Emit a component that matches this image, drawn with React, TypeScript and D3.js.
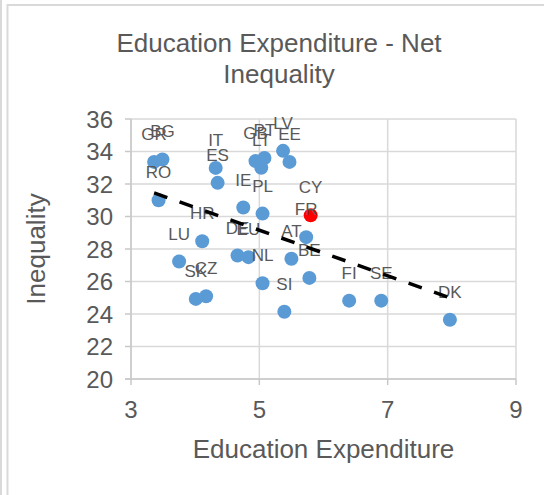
import React from "react";
import * as d3 from "d3";

const countries = ["GR","BG","RO","IT","ES","GB","PT","LT","LV","EE","IE","PL","CY","FR","AT","BE","HR","LU","DE","EU","NL","SI","SK","CZ","FI","SE","DK"];
const educationExpenditure = [3.36,3.49,3.43,4.32,4.35,4.94,5.08,5.03,5.37,5.47,4.75,5.05,5.80,5.73,5.50,5.78,4.11,3.75,4.66,4.83,5.05,5.39,4.01,4.17,6.40,6.90,7.97];
const netInequality = [33.36,33.51,31.0,32.99,32.07,33.41,33.6,33.0,34.04,33.36,30.55,30.18,30.07,28.73,27.4,26.22,28.48,27.23,27.6,27.5,25.89,24.14,24.93,25.09,24.82,24.82,23.65];
const highlighted = ["CY"];
const xTicks = [3, 5, 7, 9];
const yTicks = [20, 22, 24, 26, 28, 30, 32, 34, 36];

const W = 544, H = 495;
const FONT = "'Liberation Sans', Arial, sans-serif";
const TEXT = "#595959";
const GRID = "#d9d9d9";

export default function App() {
  const x = d3.scaleLinear().domain([3, 9]).range([131, 516]);
  const y = d3.scaleLinear().domain([20, 36]).range([379, 119]);

  const pts = countries.map((c, i) => ({ c, x: educationExpenditure[i], y: netInequality[i] }));
  const mx = d3.mean(pts, p => p.x)!;
  const my = d3.mean(pts, p => p.y)!;
  const sxy = d3.sum(pts, p => (p.x - mx) * (p.y - my));
  const sxx = d3.sum(pts, p => (p.x - mx) ** 2);
  const slope = sxy / sxx;
  const intercept = my - slope * mx;
  const [x0, x1] = d3.extent(educationExpenditure) as [number, number];
  const trend = d3.line<number>().x(v => x(v)).y(v => y(intercept + slope * v))([x0, x1])!;

  return (
    <svg width={W} height={H} style={{ position: "absolute", left: 0, top: 0, background: "#fff" }} fontFamily={FONT}>
      <rect width={W} height={H} fill="#fff" />
      {/* frame */}
      <line x1={1} x2={1} y1={0} y2={H} stroke={GRID} strokeWidth={2} />
      <line x1={7.5} x2={7.5} y1={4} y2={H} stroke={GRID} strokeWidth={2} />
      <line x1={7} x2={W} y1={5} y2={5} stroke={GRID} strokeWidth={2} />

      {/* title */}
      <text x={279} y={52} textAnchor="middle" fontSize={26} fill={TEXT}>Education Expenditure - Net</text>
      <text x={279} y={83} textAnchor="middle" fontSize={26} fill={TEXT}>Inequality</text>

      {/* gridlines */}
      {yTicks.map(t => (
        <line key={"gy" + t} x1={x(3)} x2={x(9)} y1={y(t)} y2={y(t)} stroke={GRID} strokeWidth={1.5} />
      ))}
      {xTicks.map(t => (
        <line key={"gx" + t} x1={x(t)} x2={x(t)} y1={y(36)} y2={y(20)} stroke={GRID} strokeWidth={1.5} />
      ))}
      {/* axes */}
      <line x1={x(3)} x2={x(3)} y1={y(36)} y2={y(20)} stroke="#c8c8c8" strokeWidth={1.5} />
      <line x1={x(3) - 6} x2={x(9)} y1={y(20)} y2={y(20)} stroke="#c8c8c8" strokeWidth={1.5} />
      {yTicks.map(t => (
        <line key={"ty" + t} x1={x(3) - 6} x2={x(3)} y1={y(t)} y2={y(t)} stroke="#c8c8c8" strokeWidth={1.5} />
      ))}
      {xTicks.map(t => (
        <line key={"tx" + t} x1={x(t)} x2={x(t)} y1={y(20)} y2={y(20) + 6} stroke="#c8c8c8" strokeWidth={1.5} />
      ))}
      {/* tick labels */}
      {yTicks.map(t => (
        <text key={"ly" + t} x={x(3) - 18} y={y(t) + 8.5} textAnchor="end" fontSize={24} fill={TEXT}>{t}</text>
      ))}
      {xTicks.map(t => (
        <text key={"lx" + t} x={x(t)} y={418} textAnchor="middle" fontSize={24} fill={TEXT}>{t}</text>
      ))}
      {/* axis titles */}
      <text x={(x(3) + x(9)) / 2} y={458} textAnchor="middle" fontSize={26} fill={TEXT}>Education Expenditure</text>
      <text transform={`translate(45,${(y(20) + y(36)) / 2}) rotate(-90)`} textAnchor="middle" fontSize={26} fill={TEXT}>Inequality</text>

      {/* points */}
      {pts.map(p => (
        <circle key={"p" + p.c} cx={x(p.x)} cy={y(p.y)} r={7}
          fill={highlighted.includes(p.c) ? "#ff0000" : "#5b9bd5"} />
      ))}
      {/* labels */}
      {pts.map(p => (
        <text key={"t" + p.c} x={x(p.x)} y={y(p.y) - 22} textAnchor="middle" fontSize={17} fill={TEXT}>{p.c}</text>
      ))}
      {/* trendline */}
      <path d={trend} fill="none" stroke="#000" strokeWidth={3.5} strokeDasharray="14 13" />
    </svg>
  );
}
